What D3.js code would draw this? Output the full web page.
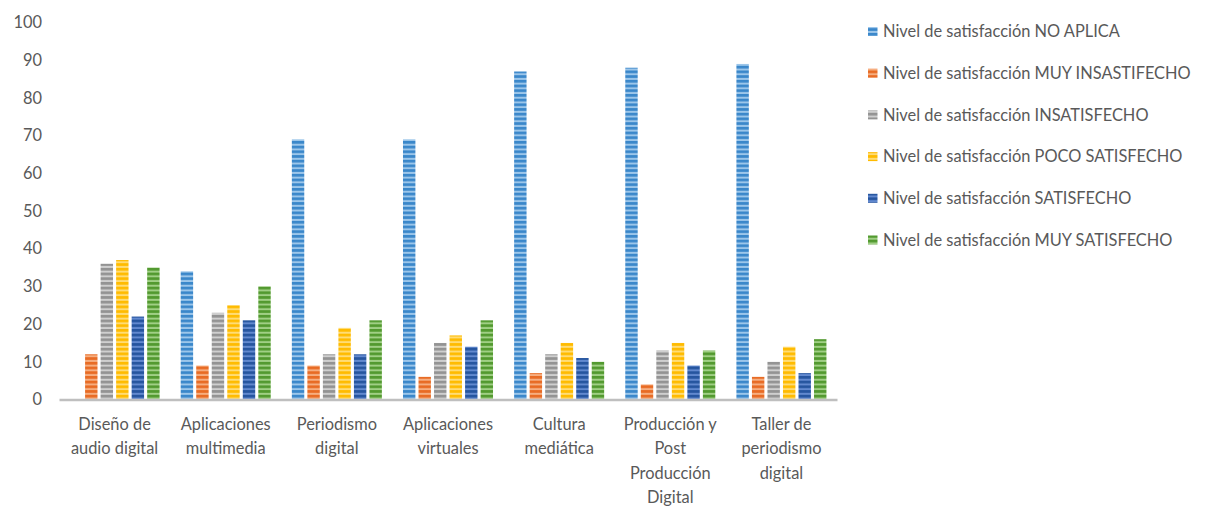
<!DOCTYPE html>
<html>
<head>
<meta charset="utf-8">
<script src="https://cdn.jsdelivr.net/npm/d3@7"></script>
<style>
  html, body { margin: 0; padding: 0; background: #fff; }
  svg { display: block; font-family: Lato, "Open Sans", sans-serif; }
</style>
</head>
<body>
<svg id="chart" width="1218" height="506"></svg>
<script>
// Courses evaluated
const categories = [
  "Diseño de audio digital",
  "Aplicaciones multimedia",
  "Periodismo digital",
  "Aplicaciones virtuales",
  "Cultura mediática",
  "Producción y Post Producción Digital",
  "Taller de periodismo digital"
];

// Satisfaction levels (series)
const seriesNames = [
  "Nivel de satisfacción NO APLICA",
  "Nivel de satisfacción MUY INSASTIFECHO",
  "Nivel de satisfacción INSATISFECHO",
  "Nivel de satisfacción POCO SATISFECHO",
  "Nivel de satisfacción SATISFECHO",
  "Nivel de satisfacción MUY SATISFECHO"
];

// Values per series, one per course
const noAplica        = [0, 34, 69, 69, 87, 88, 89];
const muyInsatisfecho = [12, 9, 9, 6, 7, 4, 6];
const insatisfecho    = [36, 23, 12, 15, 12, 13, 10];
const pocoSatisfecho  = [37, 25, 19, 17, 15, 15, 14];
const satisfecho      = [22, 21, 12, 14, 11, 9, 7];
const muySatisfecho   = [35, 30, 21, 21, 10, 13, 16];

const yTicks = [0, 10, 20, 30, 40, 50, 60, 70, 80, 90, 100];

const seriesValues = [noAplica, muyInsatisfecho, insatisfecho, pocoSatisfecho, satisfecho, muySatisfecho];

// Striped fills: [stripe colour, lighter band colour]
const fills = [
  ["#3a87ca", "#9cc6ea"],
  ["#e86b24", "#f6ae80"],
  ["#939393", "#cfcfcf"],
  ["#ffbb00", "#ffdc75"],
  ["#26559f", "#6289cf"],
  ["#52992f", "#a0cf85"]
];

const svg = d3.select("#chart");
const textColor = "#595959";
const fontSize = 16.4;

// Horizontal stripe patterns
const defs = svg.append("defs");
fills.forEach((f, i) => {
  const p = defs.append("pattern")
    .attr("id", "stripe" + i)
    .attr("patternUnits", "userSpaceOnUse")
    .attr("width", 8)
    .attr("height", 4.7);
  p.append("rect").attr("width", 8).attr("height", 4.7).attr("fill", f[1]);
  p.append("rect").attr("width", 8).attr("height", 2.7).attr("fill", f[0]);
});

const plotLeft = 59, plotRight = 837;
const y = d3.scaleLinear().domain([0, 100]).range([399.5, 22.5]);

const x0 = d3.scaleBand()
  .domain(categories)
  .range([plotLeft, plotRight])
  .paddingInner(0.19)
  .paddingOuter(0.095);

const x1 = d3.scaleBand()
  .domain(d3.range(seriesNames.length))
  .range([0, x0.bandwidth()])
  .paddingInner(0.2);

// Bars
const groups = svg.append("g").selectAll("g")
  .data(categories)
  .join("g")
  .attr("transform", d => `translate(${x0(d)},0)`);

groups.selectAll("rect")
  .data((d, ci) => seriesValues.map((vals, si) => ({ si, v: vals[ci] })))
  .join("rect")
  .attr("x", d => x1(d.si))
  .attr("width", x1.bandwidth())
  .attr("y", d => y(d.v))
  .attr("height", d => y(0) - y(d.v))
  .attr("fill", d => `url(#stripe${d.si})`);

// Y axis labels (no axis line)
const yAxis = svg.append("g")
  .attr("transform", `translate(42,0)`)
  .call(d3.axisLeft(y).tickValues(yTicks).tickSize(0).tickPadding(0));
yAxis.select(".domain").remove();
yAxis.selectAll("text")
  .attr("fill", textColor)
  .style("font-size", fontSize + "px")
  .style("font-family", "Lato, 'Open Sans', sans-serif");

// Category axis line and wrapped labels
const xAxis = svg.append("g")
  .attr("transform", `translate(0,${y(0)})`)
  .call(d3.axisBottom(x0).tickSize(0).tickPadding(0));
xAxis.select(".domain")
  .attr("stroke", "#bfbfbf")
  .attr("stroke-width", 2.5);
xAxis.selectAll("text").remove();

function wrapLines(str, maxWidth) {
  const probe = svg.append("text")
    .style("font-size", fontSize + "px");
  const words = str.split(" ");
  const lines = [];
  let line = [];
  words.forEach(w => {
    const test = line.concat([w]).join(" ");
    probe.text(test);
    if (line.length && probe.node().getComputedTextLength() > maxWidth) {
      lines.push(line.join(" "));
      line = [w];
    } else {
      line.push(w);
    }
  });
  if (line.length) lines.push(line.join(" "));
  probe.remove();
  return lines;
}

const labelG = svg.append("g");
categories.forEach(c => {
  const lines = wrapLines(c, 104);
  const t = labelG.append("text")
    .attr("x", x0(c) + x0.bandwidth() / 2)
    .attr("y", 430)
    .attr("text-anchor", "middle")
    .attr("fill", textColor)
    .style("font-size", fontSize + "px");
  lines.forEach((ln, i) => {
    t.append("tspan")
      .attr("x", x0(c) + x0.bandwidth() / 2)
      .attr("dy", i === 0 ? 0 : 24.3)
      .text(ln);
  });
});

// Legend
const legend = svg.append("g").attr("transform", "translate(868,0)");
seriesNames.forEach((name, i) => {
  const cy = 31.5 + i * 41.7;
  legend.append("rect")
    .attr("x", 0)
    .attr("y", cy - 4.5)
    .attr("width", 9.5)
    .attr("height", 9)
    .attr("fill", `url(#stripe${i})`);
  legend.append("text")
    .attr("x", 15)
    .attr("y", cy)
    .attr("dy", "0.35em")
    .attr("fill", textColor)
    .style("font-size", fontSize + "px")
    .text(name);
});
</script>
</body>
</html>
